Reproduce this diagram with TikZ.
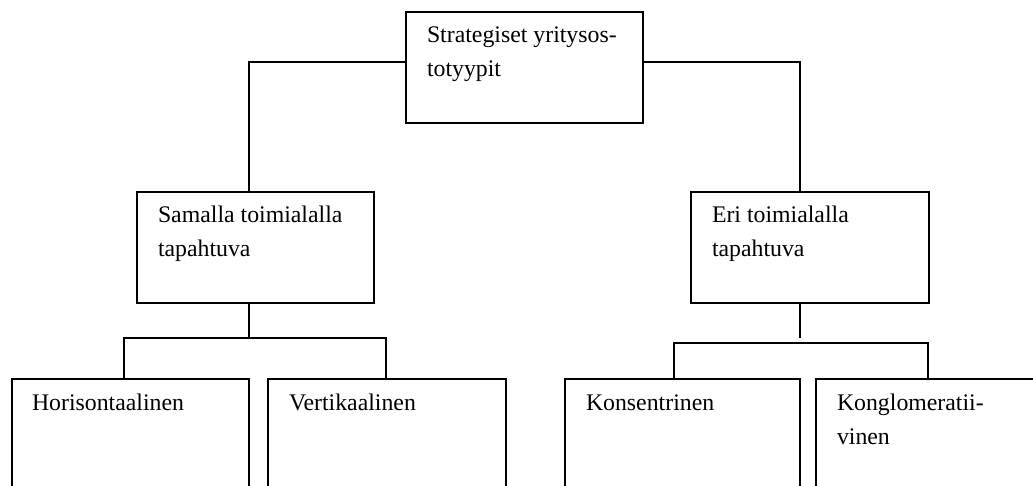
\documentclass[tikz,border=0pt]{standalone}
\usepackage{fontspec}
\setmainfont{Liberation Serif}
\begin{document}
\begin{tikzpicture}[x=1pt,y=-1pt,
  box/.style={draw,line width=1.8pt,rectangle,inner sep=0pt,outer sep=0pt,anchor=north west},
  lbl/.style={anchor=north west,inner sep=0pt,outer sep=0pt,align=left,font=\fontsize{23.8}{34}\selectfont},
  conn/.style={line width=1.8pt}]
\useasboundingbox (0,0) rectangle (1033,486);
\clip (0,0) rectangle (1033,486);
\fill[white] (0,0) rectangle (1033,486);
% boxes
\node[box,minimum width=237pt,minimum height=111pt] (top) at (406,12) {};
\node[box,minimum width=237pt,minimum height=111pt] (sam) at (137,192) {};
\node[box,minimum width=238pt,minimum height=111pt] (eri) at (691,192) {};
\node[box,minimum width=237pt,minimum height=240pt] (hor) at (12,379) {};
\node[box,minimum width=238pt,minimum height=240pt] (ver) at (268,379) {};
\node[box,minimum width=235pt,minimum height=240pt] (kon) at (565,379) {};
\node[box,minimum width=244pt,minimum height=240pt] (kong) at (816,379) {};
% texts
\node[lbl] (ttop) at ([xshift=21pt,yshift=-11pt]top.north west) {\rule{0pt}{20pt}Strategiset yritysos-\\totyypit};
\node[lbl] (tsam) at ([xshift=21pt,yshift=-11pt]sam.north west) {\rule{0pt}{20pt}Samalla toimialalla\\tapahtuva};
\node[lbl] (teri) at ([xshift=21pt,yshift=-11pt]eri.north west) {\rule{0pt}{20pt}Eri toimialalla\\tapahtuva};
\node[lbl] (thor) at ([xshift=20pt,yshift=-11pt]hor.north west) {\rule{0pt}{20pt}Horisontaalinen};
\node[lbl] (tver) at ([xshift=21pt,yshift=-11pt]ver.north west) {\rule{0pt}{20pt}Vertikaalinen};
\node[lbl] (tkon) at ([xshift=21pt,yshift=-11pt]kon.north west) {\rule{0pt}{20pt}Konsentrinen};
\node[lbl] (tkong) at ([xshift=21pt,yshift=-11pt]kong.north west) {\rule{0pt}{20pt}Konglomeratii-\\vinen};
% connector junctions
\coordinate (b1) at (249,338);
\coordinate (e1) at (800,338);
\coordinate (b2) at (800,343);
% connectors
\draw[conn] ([yshift=5.5pt]top.west) -| ([xshift=-6.5pt]sam.north);
\draw[conn] ([yshift=5.5pt]top.east) -| ([xshift=-10pt]eri.north);
\draw[conn] ([xshift=-6.5pt]sam.south) -- (b1);
\draw[conn] ([xshift=-6.5pt]hor.north) |- (b1) -| ([xshift=-1pt]ver.north);
\draw[conn] ([xshift=-10pt]eri.south) -- (e1);
\draw[conn] ([xshift=-8.5pt]kon.north) |- (b2) -| ([xshift=-10pt]kong.north);
\end{tikzpicture}
\end{document}
